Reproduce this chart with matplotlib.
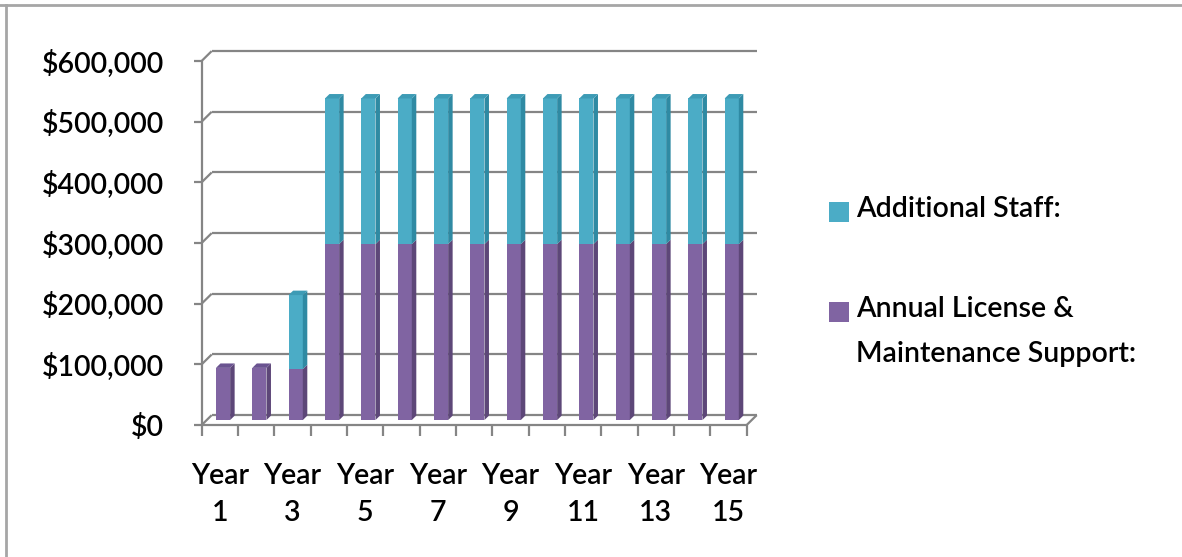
import numpy as np
import matplotlib.pyplot as plt
from matplotlib.patches import Polygon, Rectangle
from matplotlib.lines import Line2D

plt.rcParams['font.family'] = ['Lato', 'DejaVu Sans']
plt.rcParams['font.weight'] = 'semibold'

years = ['Year 1', 'Year 2', 'Year 3', 'Year 4', 'Year 5', 'Year 6', 'Year 7', 'Year 8',
         'Year 9', 'Year 10', 'Year 11', 'Year 12', 'Year 13', 'Year 14', 'Year 15']
tick_labels = ['Year\n1', '', 'Year\n3', '', 'Year\n5', '', 'Year\n7', '',
               'Year\n9', '', 'Year\n11', '', 'Year\n13', '', 'Year\n15']
license_support = [86000, 86000, 84000, 290000, 290000, 290000, 290000, 290000,
                   290000, 290000, 290000, 290000, 290000, 290000, 290000]
additional_staff = [0, 0, 122000, 240000, 240000, 240000, 240000, 240000,
                    240000, 240000, 240000, 240000, 240000, 240000, 240000]
y_ticks = [0, 100000, 200000, 300000, 400000, 500000, 600000]
y_labels = ['$0', '$100,000', '$200,000', '$300,000', '$400,000', '$500,000', '$600,000']
legend_labels = ['Additional Staff:', 'Annual License &\nMaintenance Support:']

W, H = 1182, 557
fig = plt.figure(figsize=(W / 100, H / 100), dpi=100)
# axes = middle depth plane of the fake 3d box
ax_l, ax_r, ax_t, ax_b = 206.7, 751.7, 56.0, 425.0
ax = fig.add_axes([ax_l / W, 1 - ax_b / H, (ax_r - ax_l) / W, (ax_b - ax_t) / H])
n = len(years)
ax.set_xlim(-0.5, n - 0.5)
ax.set_ylim(0, 600000)
for s in ax.spines.values():
    s.set_visible(False)

px_x = n / (ax_r - ax_l)          # data units per pixel
px_y = 600000 / (ax_b - ax_t)
dx, dy = 5 * px_x, 5 * px_y       # half depth of the box
gcol = '#858585'
glw = 1.6

def line(xs, ys):
    ax.plot(xs, ys, color=gcol, lw=glw, clip_on=False, solid_capstyle='butt', zorder=1)

x0, x1 = -0.5, n - 0.5
for v in y_ticks:
    line([x0 + dx, x1 + dx], [v + dy, v + dy])            # back wall
    line([x0 - dx, x0 + dx], [v - dy, v + dy])            # side stub
    line([x0 - dx - 8 * px_x, x0 - dx], [v - dy, v - dy])  # tick
line([x0 - dx, x0 - dx], [-dy, 600000 - dy])
line([x0 - dx, x1 - dx], [-dy, -dy])
line([x1 - dx, x1 + dx], [-dy, dy])
for b in np.arange(n + 1) - 0.5:
    line([b - dx, b - dx], [-dy, -dy - 11 * px_y])

# bars
xs = np.arange(n)
w = 0.39
sx, sy = 4.5 * px_x, 4.5 * px_y
series = [(license_support, '#8064A2', '#5d4778', '#6a5390'),
          (additional_staff, '#4BACC6', '#2f8aa3', '#3d9bb5')]
bottom = np.zeros(n)
tops = np.array(license_support) + np.array(additional_staff)
for vals, cf, cs, ct in series:
    vals = np.array(vals, dtype=float)
    ax.bar(xs - 0.05, vals, w, bottom=bottom, color=cf, linewidth=0, zorder=3)
    for i in range(n):
        if vals[i] <= 0:
            continue
        xr = xs[i] - 0.05 + w / 2
        b0, b1 = bottom[i], bottom[i] + vals[i]
        ax.add_patch(Polygon([(xr, b0), (xr + sx, b0 + sy), (xr + sx, b1 + sy), (xr, b1)],
                             closed=True, facecolor=cs, lw=0, zorder=3, clip_on=False))
        if b1 >= tops[i]:
            xl = xr - w
            ax.add_patch(Polygon([(xl, b1), (xr, b1), (xr + sx, b1 + sy), (xl + sx, b1 + sy)],
                                 closed=True, facecolor=ct, lw=0, zorder=3, clip_on=False))
    bottom = bottom + vals

fs = 20.5
ax.set_xticks(xs - dx, tick_labels, fontsize=fs, linespacing=1.55, color='black')
ax.set_yticks(np.array(y_ticks) - dy, y_labels, fontsize=fs)
ax.tick_params(axis='x', length=0, pad=27)
ax.tick_params(axis='y', length=0, pad=31)

# legend
leg = [(legend_labels[0], '#4BACC6', 212), (legend_labels[1], '#8064A2', 312)]
for lab, c, yc in leg:
    fig.patches.append(Rectangle((829 / W, 1 - (yc + 10) / H), 20 / W, 20 / H,
                                 transform=fig.transFigure, facecolor=c, lw=0))
    fig.text(856 / W, 1 - (yc - 16) / H, lab, fontsize=fs, va='top', ha='left',
             linespacing=1.9)

# chart border (top and left only visible)
fig.add_artist(Line2D([0, 1], [1 - 5 / H, 1 - 5 / H], color='#a6a6a6', lw=2))
fig.add_artist(Line2D([6 / W, 6 / W], [0, 1 - 5 / H], color='#a6a6a6', lw=2))

fig.savefig('out.png', dpi=100)
